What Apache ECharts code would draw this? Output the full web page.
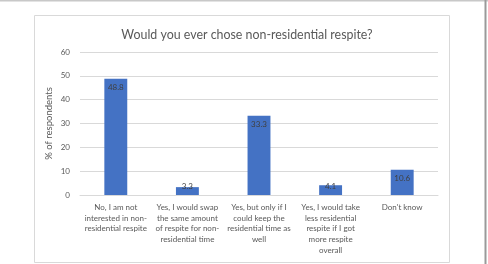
<!DOCTYPE html>
<html><head><meta charset="utf-8">
<script src="https://cdn.jsdelivr.net/npm/echarts@6/dist/echarts.min.js"></script>
<style>html,body{margin:0;padding:0;background:#fff;}#c{width:488px;height:264px;}</style>
</head><body><div id="c"></div>
<script>
const titleText = 'Would you ever chose non-residential respite?';
const yAxisName = '% of respondents';
const categories = [
  'No, I am not\ninterested in non-\nresidential respite',
  'Yes, I would swap\nthe same amount\nof respite for non-\nresidential time',
  'Yes, but only if I\ncould keep the\nresidential time as\nwell',
  'Yes, I would take\nless residential\nrespite if I got\nmore respite\noverall',
  "Don't know"
];
const values = [48.8, 3.3, 33.3, 4.1, 10.6];
const yTicks = [0, 10, 20, 30, 40, 50, 60];

const font = 'Lato, "Open Sans", sans-serif';
const chart = echarts.init(document.getElementById('c'));
const data = values.map(v => ({
  value: v,
  label: v < 8 ? { position: 'insideBottom', distance: 5 } : { position: 'insideTop', distance: 5 }
}));
chart.setOption({
  animation: false,
  title: { text: titleText, left: 242, top: 24, textAlign: 'center',
    textStyle: { fontFamily: font, fontSize: 12.4, fontWeight: 'normal', color: '#595959' } },
  grid: { left: 80, right: 50, top: 52, bottom: 69, containLabel: false },
  xAxis: { type: 'category', data: categories,
    axisLine: { lineStyle: { color: '#d9d9d9' } }, axisTick: { show: false },
    axisLabel: { interval: 0, fontFamily: font, fontSize: 8, color: '#595959', lineHeight: 10.7, margin: 7 } },
  yAxis: { type: 'value', min: yTicks[0], max: yTicks[yTicks.length-1], interval: 10,
    name: yAxisName, nameLocation: 'middle', nameGap: 26, nameMoveOverlap: false,
    nameTextStyle: { fontFamily: font, fontSize: 9.5, color: '#595959' },
    axisLine: { show: false }, axisTick: { show: false },
    axisLabel: { fontFamily: font, fontSize: 8, color: '#595959', margin: 10 },
    splitLine: { lineStyle: { color: '#d9d9d9' } } },
  series: [{ type: 'bar', data: data, barWidth: '32%',
    itemStyle: { color: '#4472C4' },
    label: { show: true, fontFamily: font, fontSize: 8, color: '#404040' } }],
  graphic: [
    { type: 'rect', shape: { x: 34.5, y: 15.5, width: 415, height: 247 }, style: { fill: 'none', stroke: '#d9d9d9', lineWidth: 1 }, z: -1 },
    { type: 'rect', shape: { x: 0, y: 0, width: 488, height: 1.5 }, style: { fill: '#c8c8c8' } },
    { type: 'rect', shape: { x: 484.5, y: 0, width: 2, height: 264 }, style: { fill: '#9a9a9a' } }
  ]
});
</script></body></html>
